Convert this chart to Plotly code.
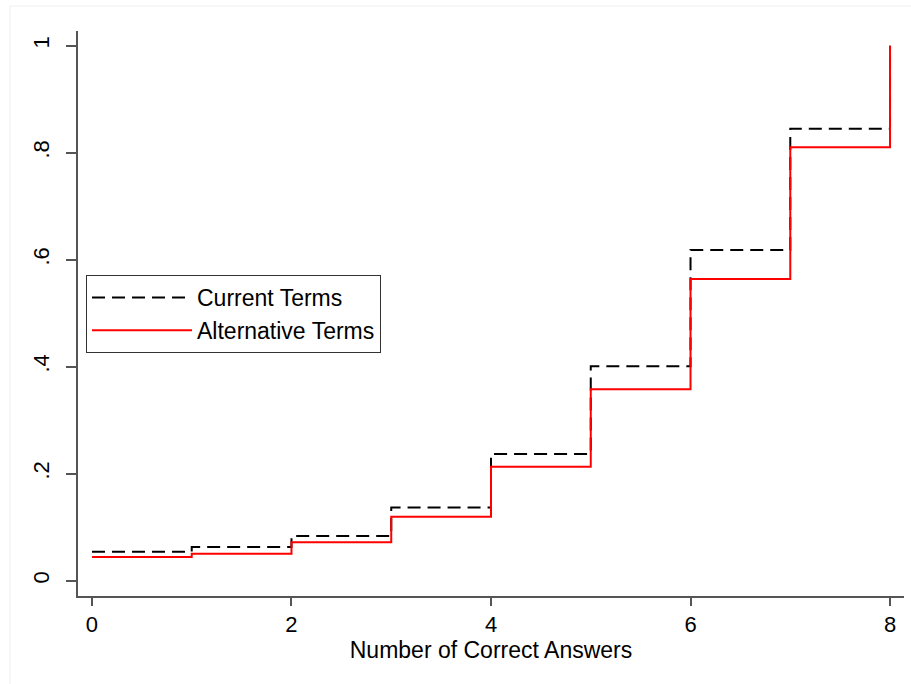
import plotly.graph_objects as go

x_vals = [0, 1, 2, 3, 4, 5, 6, 7, 8]
current_terms = [0.054, 0.063, 0.0835, 0.137, 0.237, 0.401, 0.618, 0.845, 1.0]
alternative_terms = [0.0443, 0.0505, 0.0717, 0.1196, 0.213, 0.358, 0.564, 0.810, 1.0]

x_ticks = [0, 2, 4, 6, 8]
y_ticks = [0, 0.2, 0.4, 0.6, 0.8, 1.0]
y_ticklabels = ["0", ".2", ".4", ".6", ".8", "1"]

FONT = "Liberation Sans, Arial, Helvetica, sans-serif"
AX = "#555555"

fig = go.Figure()
fig.add_trace(go.Scatter(
    x=x_vals, y=current_terms, mode="lines", name="Current Terms",
    line=dict(color="black", width=2, dash="13px,7px", shape="hv"),
))
fig.add_trace(go.Scatter(
    x=x_vals, y=alternative_terms, mode="lines", name="Alternative Terms",
    line=dict(color="#ff0000", width=2, shape="hv"),
))

W, H = 911, 684
L, R, T, B = 78, 911 - 904, 31, 684 - 596

fig.update_layout(
    width=W, height=H,
    margin=dict(l=L, r=R, t=T, b=B),
    paper_bgcolor="white", plot_bgcolor="white",
    font=dict(family=FONT, size=22, color="black"),
    showlegend=True,
    legend=dict(
        x=(86 - L) / (W - L - R), y=(596 - 275) / (596 - T),
        xanchor="left", yanchor="top",
        bgcolor="white", bordercolor="#333333", borderwidth=1,
        font=dict(family=FONT, size=23, color="black"),
        itemwidth=100, tracegroupgap=0,
        entrywidth=300, entrywidthmode="pixels",
    ),
    xaxis=dict(
        range=[-0.14, 8.14], tickvals=x_ticks, ticks="outside", ticklen=8,
        tickwidth=1.5, tickcolor=AX, showline=True, linecolor=AX, linewidth=1.5,
        showgrid=False, zeroline=False, tickfont=dict(size=22),
        title=dict(text="Number of Correct Answers", font=dict(size=23), standoff=1),
    ),
    yaxis=dict(
        range=[-0.0286, 1.0275], tickvals=y_ticks, ticktext=y_ticklabels,
        ticks="outside", ticklen=10, tickwidth=1.5, tickcolor=AX,
        showline=True, linecolor=AX, linewidth=1.5, showgrid=False, zeroline=False,
        tickangle=-90, tickfont=dict(size=22), ticklabelstandoff=8,
    ),
    shapes=[dict(type="rect", xref="paper", yref="paper",
                 x0=(10 - L) / (W - L - R), x1=(W + 5 - L) / (W - L - R),
                 y0=(596 - H - 5) / (596 - T), y1=(596 - 6) / (596 - T),
                 line=dict(color="#eeeeee", width=1), layer="below")],
)

fig.write_html("out.html")
